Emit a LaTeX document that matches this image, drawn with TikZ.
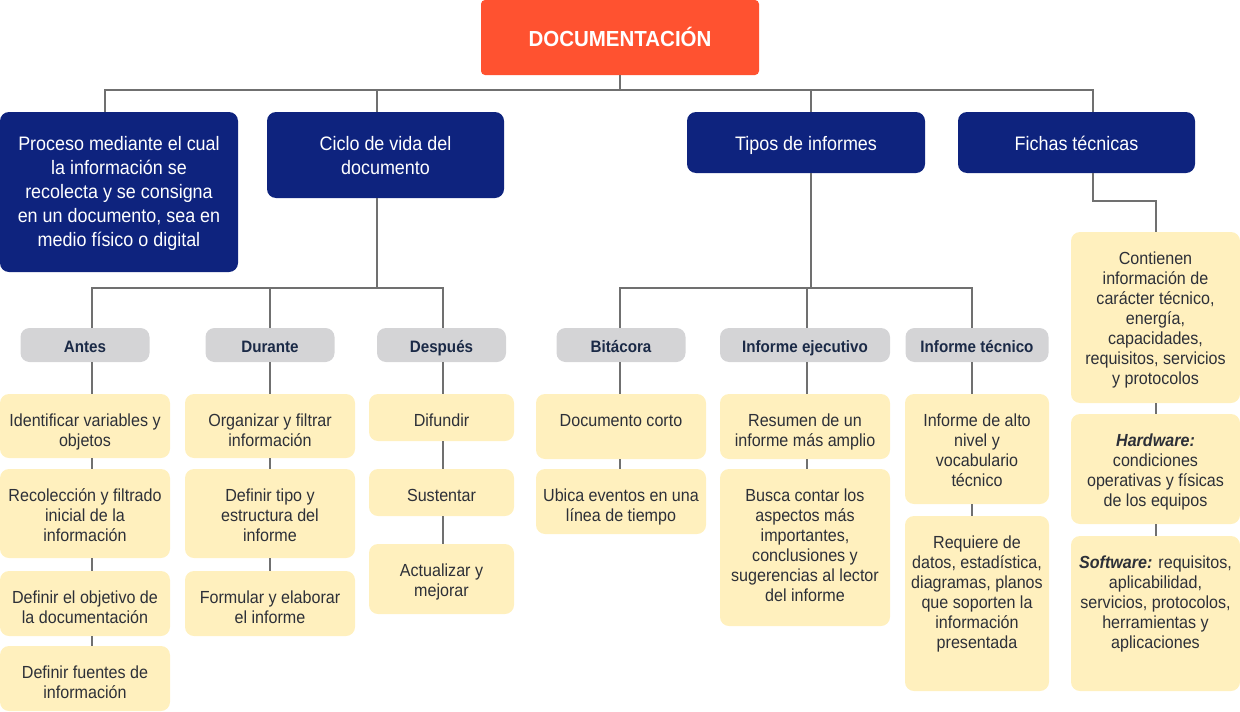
\documentclass[tikz,border=0pt]{standalone}
\usepackage{fontspec}
\setmainfont{Liberation Sans}[FakeStretch=0.92]
\newfontfamily\titlefont{Liberation Sans}[FakeStretch=0.94]

\definecolor{docorange}{HTML}{FF5230}
\definecolor{docnavy}{HTML}{0E237E}
\definecolor{stagegrey}{HTML}{D4D4D6}
\definecolor{stagetext}{HTML}{1B2A47}
\definecolor{itemyellow}{HTML}{FFF0BE}
\definecolor{itemtext}{HTML}{2D3038}
\definecolor{linegrey}{HTML}{707070}

\tikzset{
  % width, height, number of lines: text hangs from the top of the box
  itemsize/.code n args={3}{%
    \pgfmathsetmacro\itemht{32.5+20*(#3-1)}%
    \pgfmathsetmacro\itemdp{#2-\itemht}%
    \tikzset{minimum width=#1pt, text height=\itemht pt, text depth=\itemdp pt}},
  topicsize/.code n args={3}{%
    \pgfmathsetmacro\topicht{38+24*(#3-1)}%
    \pgfmathsetmacro\topicdp{#2-\topicht}%
    \tikzset{minimum width=#1pt, text height=\topicht pt, text depth=\topicdp pt}},
  titlebox/.style={fill=docorange, rounded corners=4pt, text=white, inner sep=0pt,
    minimum width=278pt, text height=46pt, text depth=29pt,
    font=\titlefont\bfseries\fontsize{21.8}{26}\selectfont},
  topicbox/.style={fill=docnavy, rounded corners=9pt, text=white, align=center, inner sep=0pt,
    font=\fontsize{19.5}{24}\selectfont},
  stagebox/.style={fill=stagegrey, rounded corners=9pt, text=stagetext, inner sep=0pt,
    text height=24.3pt, text depth=9.7pt, font=\bfseries\fontsize{16.5}{20}\selectfont},
  itembox/.style={fill=itemyellow, rounded corners=9pt, text=itemtext, align=center, inner sep=0pt,
    font=\fontsize{17.5}{20}\selectfont},
  link/.style={draw=linegrey, line width=2pt}
}

\begin{document}
\begin{tikzpicture}[x=1pt,y=-1pt]
  \useasboundingbox (0,0) rectangle (1240,712);

  % top level
  \node[titlebox] (title) at (620,37.5) {DOCUMENTACIÓN};
  \node[topicbox, topicsize={238}{160}{5}] (proc) at (119,192)
    {Proceso mediante el cual\\la información se\\recolecta y se consigna\\en un documento, sea en\\medio físico o digital};
  \node[topicbox, topicsize={237}{86}{2}] (ciclo) at (385.5,155) {Ciclo de vida del\\documento};
  \node[topicbox, topicsize={238}{61}{1}] (tipos) at (806,142.5) {Tipos de informes};
  \node[topicbox, topicsize={237}{61}{1}] (fichas) at (1076.5,142.5) {Fichas técnicas};

  % stages
  \node[stagebox, minimum width=129pt] (antes) at (85,345) {Antes};
  \node[stagebox, minimum width=129pt] (durante) at (270,345) {Durante};
  \node[stagebox, minimum width=129pt] (despues) at (441.5,345) {Después};
  \node[stagebox, minimum width=129pt] (bitacora) at (621,345) {Bitácora};
  \node[stagebox, minimum width=170pt] (ejecutivo) at (805,345) {Informe ejecutivo};
  \node[stagebox, minimum width=143pt] (tecnico) at (977,345) {Informe técnico};

  % antes
  \node[itembox, itemsize={170}{64}{2}] (a1) at (85,426) {Identificar variables y\\objetos};
  \node[itembox, itemsize={170}{89}{3}] (a2) at (85,513.5) {Recolección y filtrado\\inicial de la\\información};
  \node[itembox, itemsize={170}{65}{2}] (a3) at (85,603.5) {Definir el objetivo de\\la documentación};
  \node[itembox, itemsize={170}{65}{2}] (a4) at (85,678.5) {Definir fuentes de\\información};

  % durante
  \node[itembox, itemsize={170}{64}{2}] (d1) at (270,426) {Organizar y filtrar\\información};
  \node[itembox, itemsize={170}{89}{3}] (d2) at (270,513.5) {Definir tipo y\\estructura del\\informe};
  \node[itembox, itemsize={170}{65}{2}] (d3) at (270,603.5) {Formular y elaborar\\el informe};

  % despues
  \node[itembox, itemsize={145}{47}{1}] (p1) at (441.5,417.5) {Difundir};
  \node[itembox, itemsize={145}{47}{1}] (p2) at (441.5,492.5) {Sustentar};
  \node[itembox, itemsize={145}{70}{2}] (p3) at (441.5,579) {Actualizar y\\mejorar};

  % bitacora
  \node[itembox, itemsize={170}{65}{1}] (b1) at (621,426.5) {Documento corto};
  \node[itembox, itemsize={170}{65}{2}] (b2) at (621,501.5) {Ubica eventos en una\\línea de tiempo};

  % ejecutivo
  \node[itembox, itemsize={170}{65}{2}] (e1) at (805,426.5) {Resumen de un\\informe más amplio};
  \node[itembox, itemsize={170}{157}{6}] (e2) at (805,547.5)
    {Busca contar los\\aspectos más\\importantes,\\conclusiones y\\sugerencias al lector\\del informe};

  % tecnico
  \node[itembox, itemsize={144}{110}{4}] (t1) at (977,449) {Informe de alto\\nivel y\\vocabulario\\técnico};
  \node[itembox, itemsize={144}{175}{6}] (t2) at (977,603.5)
    {Requiere de\\datos, estadística,\\diagramas, planos\\que soporten la\\información\\presentada};

  % fichas
  \node[itembox, itemsize={169}{171}{7}] (f1) at (1155.5,317.5)
    {Contienen\\información de\\carácter técnico,\\energía,\\capacidades,\\requisitos, servicios\\y protocolos};
  \node[itembox, itemsize={169}{110}{4}] (f2) at (1155.5,469)
    {\textbf{\textit{Hardware:}}\\condiciones\\operativas y físicas\\de los equipos};
  \node[itembox, itemsize={169}{155}{5}] (f3) at (1155.5,613.5)
    {\textbf{\textit{Software:}} requisitos,\\aplicabilidad,\\servicios, protocolos,\\herramientas y\\aplicaciones};

  % connectors, top level
  \draw[link] (title.south) -- ++(0,15) coordinate (hub);
  \draw[link] (hub) -| ([xshift=-14pt]proc.north);
  \draw[link] (hub) -| ([xshift=-8.5pt]ciclo.north);
  \draw[link] (hub) -| ([xshift=5pt]tipos.north);
  \draw[link] (hub) -| ([xshift=16.5pt]fichas.north);

  % connectors, second level
  \draw[link] ([xshift=-8.5pt]ciclo.south) -- ++(0,90) coordinate (ciclohub);
  \draw[link] (ciclohub) -| ([xshift=7pt]antes.north);
  \draw[link] (ciclohub) -| (durante.north);
  \draw[link] (ciclohub) -| ([xshift=1.5pt]despues.north);
  \draw[link] ([xshift=5pt]tipos.south) -- ++(0,115) coordinate (tiposhub);
  \draw[link] (tiposhub) -| ([xshift=-1pt]bitacora.north);
  \draw[link] (tiposhub) -| ([xshift=2pt]ejecutivo.north);
  \draw[link] (tiposhub) -| ([xshift=-5pt]tecnico.north);
  \draw[link] ([xshift=16.5pt]fichas.south) -- ++(0,28) -| (f1.north);

  % connectors, columns
  \foreach \u/\v/\s in {antes/a1/7, a1/a2/7, a2/a3/7, a3/a4/7,
      durante/d1/0, d1/d2/0, d2/d3/0,
      despues/p1/1.5, p1/p2/1.5, p2/p3/1.5,
      bitacora/b1/-1, b1/b2/-1,
      ejecutivo/e1/2, e1/e2/2,
      tecnico/t1/-5, t1/t2/-5,
      f1/f2/0, f2/f3/0}
    \draw[link] ([xshift=\s pt]\u.south) -- ([xshift=\s pt]\v.north);
\end{tikzpicture}
\end{document}
